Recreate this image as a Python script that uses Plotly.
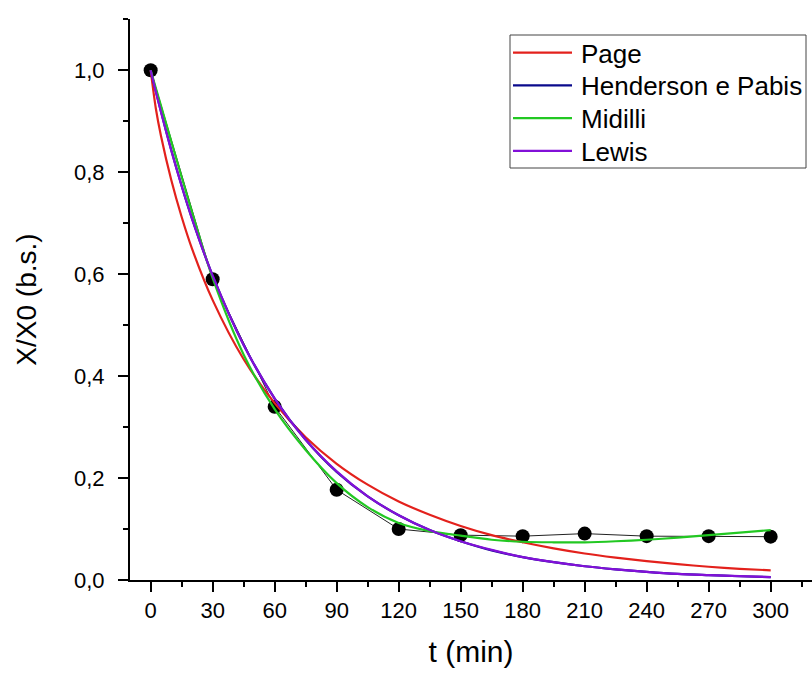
import plotly.graph_objects as go

# Experimental data
t_data = [0, 30, 60, 90, 120, 150, 180, 210, 240, 270, 300]
x_data = [1.000, 0.590, 0.340, 0.177, 0.100, 0.088, 0.086, 0.091, 0.086, 0.086, 0.085]

# Fitted model curves
t_fit = [0, 2.5, 5, 10, 15, 20, 30, 45, 60, 75, 90, 105, 120, 135, 150,
         165, 180, 195, 210, 225, 240, 255, 270, 285, 300]
page = [1.000, 0.925, 0.871, 0.784, 0.712, 0.650, 0.549, 0.433, 0.347, 0.280, 0.228,
        0.187, 0.154, 0.128, 0.106, 0.088, 0.074, 0.062, 0.052, 0.044, 0.037,
        0.031, 0.026, 0.022, 0.019]
henderson = [1.000, 0.959, 0.919, 0.843, 0.773, 0.709, 0.597, 0.461, 0.356, 0.275, 0.212,
             0.164, 0.127, 0.098, 0.076, 0.058, 0.045, 0.035, 0.027, 0.021, 0.016,
             0.012, 0.0095, 0.0074, 0.0057]
midilli = [1.000, 0.965, 0.930, 0.860, 0.790, 0.722, 0.592, 0.442, 0.335, 0.255, 0.190,
           0.143, 0.112, 0.096, 0.087, 0.079, 0.075, 0.074, 0.074, 0.076, 0.079,
           0.083, 0.088, 0.093, 0.098]
lewis = [1.000, 0.958, 0.918, 0.842, 0.773, 0.709, 0.597, 0.461, 0.356, 0.275, 0.213,
         0.164, 0.127, 0.098, 0.076, 0.059, 0.045, 0.035, 0.027, 0.021, 0.016,
         0.012, 0.0096, 0.0075, 0.0057]

names = ["Page", "Henderson e Pabis", "Midilli", "Lewis"]
series = [page, henderson, midilli, lewis]
colors = ["#E3211C", "#0A0A8C", "#22C822", "#8210D8"]

FONT = "Liberation Sans, Arial, sans-serif"
W, H = 812, 675
L, R, T, B = 130, 0, 19, 95

fig = go.Figure()
fig.add_trace(go.Scatter(
    x=t_data, y=x_data, mode="lines+markers",
    line=dict(color="#222222", width=1),
    marker=dict(color="black", size=14),
    showlegend=False, cliponaxis=False))

for name, vals, col in zip(names, series, colors):
    fig.add_trace(go.Scatter(
        x=t_fit, y=vals, mode="lines", name=name,
        line=dict(color=col, width=2.2, shape="spline", smoothing=0.8),
        showlegend=False))

# manual legend (Origin style)
pw, ph = W - L - R, H - T - B
def px(x):
    return (x - L) / pw
def py(y):
    return (H - B - y) / ph

shapes = [dict(type="rect", xref="paper", yref="paper",
               x0=px(510), x1=px(806), y0=py(168), y1=py(35),
               line=dict(color="#444444", width=1), fillcolor="white", layer="above")]
annotations = []
for i, (name, col) in enumerate(zip(names, colors)):
    yy = 52.7 + 32.7 * i
    shapes.append(dict(type="line", xref="paper", yref="paper",
                       x0=px(513), x1=px(572), y0=py(yy), y1=py(yy),
                       line=dict(color=col, width=2.2), layer="above"))
    annotations.append(dict(xref="paper", yref="paper", x=px(579), y=py(yy + 1),
                            text=name, showarrow=False, xanchor="left", yanchor="middle",
                            font=dict(family=FONT, size=26, color="black")))

axis_common = dict(showgrid=False, zeroline=False, showline=True, linecolor="black",
                   linewidth=2, ticks="outside", ticklen=10, tickwidth=2, tickcolor="black",
                   tickfont=dict(family=FONT, size=22, color="black"))

fig.update_layout(
    width=W, height=H,
    margin=dict(l=L, r=R, t=T, b=B, autoexpand=False),
    paper_bgcolor="white", plot_bgcolor="white",
    separators=",.",
    shapes=shapes, annotations=annotations,
    xaxis=dict(range=[-10, 320], tick0=0, dtick=30,
               minor=dict(ticks="outside", ticklen=5, tickwidth=2, tickcolor="black",
                          tick0=0, dtick=15),
               title=dict(text="t (min)", font=dict(family=FONT, size=30, color="black"),
                          standoff=19),
               **axis_common),
    yaxis=dict(range=[0, 1.1005], tick0=0, dtick=0.2, tickformat=".1f",
               minor=dict(ticks="outside", ticklen=5, tickwidth=2, tickcolor="black",
                          tick0=0, dtick=0.1),
               title=dict(text="X/X0 (b.s.)", font=dict(family=FONT, size=28, color="black"),
                          standoff=29),
               ticklabelstandoff=9,
               **axis_common),
    showlegend=False,
)

fig.write_html("out.html")
